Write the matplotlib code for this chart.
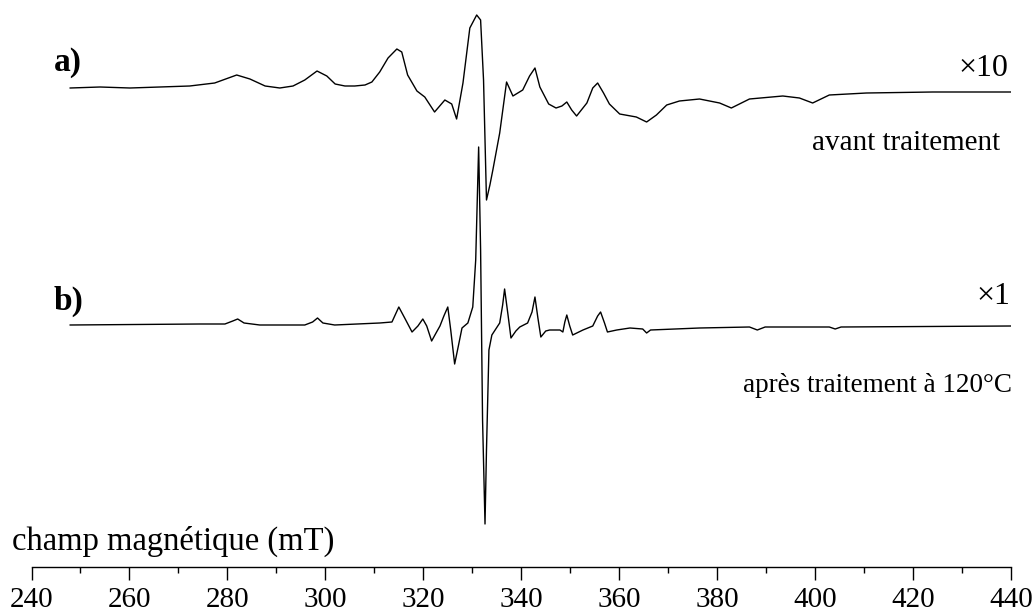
import matplotlib
matplotlib.use("Agg")
import matplotlib.pyplot as plt
from matplotlib.ticker import MultipleLocator

plt.rcParams["font.family"] = ["Liberation Serif", "DejaVu Serif"]

# spectre a) avant traitement (x10), champ en mT, intensite en unites arbitraires
field_a = [247.9, 254.0, 260.1, 266.2, 272.3, 277.4, 281.9, 284.6, 287.7, 290.7,
           293.4, 295.8, 298.3, 300.3, 302.0, 304.0, 306.0, 308.1, 309.5, 311.1,
           312.8, 314.6, 315.6, 316.8, 318.7, 320.3, 322.3, 324.4, 325.8, 326.8,
           328.1, 329.5, 330.9, 331.7, 332.3, 332.9, 333.6, 334.2, 335.6, 337.0,
           338.3, 340.3, 341.7, 342.8, 343.8, 345.6, 347.1, 348.3, 349.3, 350.3,
           351.3, 353.4, 354.6, 355.6, 356.8, 358.0, 360.1, 363.5, 365.6, 367.6,
           369.7, 372.3, 376.4, 380.5, 382.9, 386.6, 393.4, 396.8, 399.5, 402.9,
           410.5, 424.0, 440.0]
signal_a = [0, 1, 0, 1, 2, 5, 13, 9, 2, 0,
            2, 8, 17, 12, 4, 2, 2, 3, 6, 16,
            30, 39, 36, 13, -3, -9, -24, -12, -16, -31,
            5, 60, 73, 68, 8, -112, -97, -82, -45, 6,
            -8, -2, 12, 20, 1, -16, -20, -18, -14, -22,
            -28, -15, 0, 5, -5, -16, -26, -29, -34, -27,
            -17, -13, -11, -15, -20, -11, -8, -10, -15, -7,
            -5, -4, -4]

# spectre b) apres traitement a 120 C (x1)
field_b = [247.9, 274.4, 279.5, 281.1, 282.1, 283.4, 286.6, 295.8, 297.4, 298.4,
           299.5, 301.9, 311.1, 313.6, 315.0, 316.2, 317.7, 318.9, 319.9, 320.7,
           321.7, 322.6, 323.4, 324.2, 325.0, 325.6, 326.4, 327.2, 327.9, 329.1,
           330.1, 330.7, 331.3, 331.7, 332.1, 332.6, 332.9, 333.4, 334.0, 335.6,
           336.2, 336.6, 337.3, 337.9, 338.9, 339.7, 341.3, 342.2, 342.8, 343.4,
           344.0, 345.0, 345.8, 347.9, 348.5, 348.9, 349.3, 349.9, 350.5, 352.6,
           354.6, 355.6, 356.2, 357.0, 357.6, 359.5, 362.2, 364.8, 365.6, 366.4,
           376.4, 386.6, 388.2, 389.8, 402.9, 404.1, 405.3, 440.0]
signal_b = [0, 1, 1, 4, 6, 2, 0, 0, 3, 7,
            2, 0, 2, 3, 18, 7, -7, -1, 6, -1,
            -16, -8, -1, 9, 18, -5, -39, -20, -3, 2,
            18, 65, 178, 75, -95, -199, -125, -25, -10, 2,
            20, 36, 10, -13, -6, -2, 2, 13, 28, 7,
            -12, -6, -5, -5, -7, 3, 10, -1, -10, -5,
            -1, 9, 13, 2, -7, -5, -3, -4, -8, -5,
            -3, -2, -5, -2, -2, -4, -2, -1]

offset_a = -88
offset_b = -325

fig = plt.figure(figsize=(10.35, 6.12), dpi=100)
ax = fig.add_axes([31.5 / 1035, 45 / 612, (1011 - 31.5) / 1035, 567 / 612])

ax.plot(field_a, [offset_a + s for s in signal_a], color="black", lw=1.0)
ax.plot(field_b, [offset_b + s for s in signal_b], color="black", lw=1.0)

ax.set_xlim(240, 440)
ax.set_ylim(-567, 0)

for side in ["top", "left", "right"]:
    ax.spines[side].set_visible(False)
ax.spines["bottom"].set_linewidth(1.0)
ax.set_yticks([])
ax.xaxis.set_major_locator(MultipleLocator(20))
ax.xaxis.set_minor_locator(MultipleLocator(10))
ax.tick_params(axis="x", which="major", direction="out", length=9.5, width=1.0,
               labelsize=21, pad=5)
ax.tick_params(axis="x", which="minor", direction="out", length=4.5, width=1.0)

def fig_text(x, y, s, **kw):
    fig.text(x / 1035, 1 - y / 612, s, **kw)

fig_text(54, 63, "a)", fontsize=24, fontweight="bold", va="center", ha="left")
fig_text(1008, 69, "\u00d710", fontsize=23, va="center", ha="right")
fig_text(1000, 143, "avant traitement", fontsize=21, va="center", ha="right")
fig_text(54, 301, "b)", fontsize=24, fontweight="bold", va="center", ha="left")
fig_text(1010, 296, "\u00d71", fontsize=23, va="center", ha="right")
fig_text(1012, 385, "apr\u00e8s traitement \u00e0 120\u00b0C", fontsize=19.5,
         va="center", ha="right")
fig_text(12, 541, "champ magn\u00e9tique (mT)", fontsize=23.5, va="center", ha="left")

fig.savefig("out.png", dpi=100)
